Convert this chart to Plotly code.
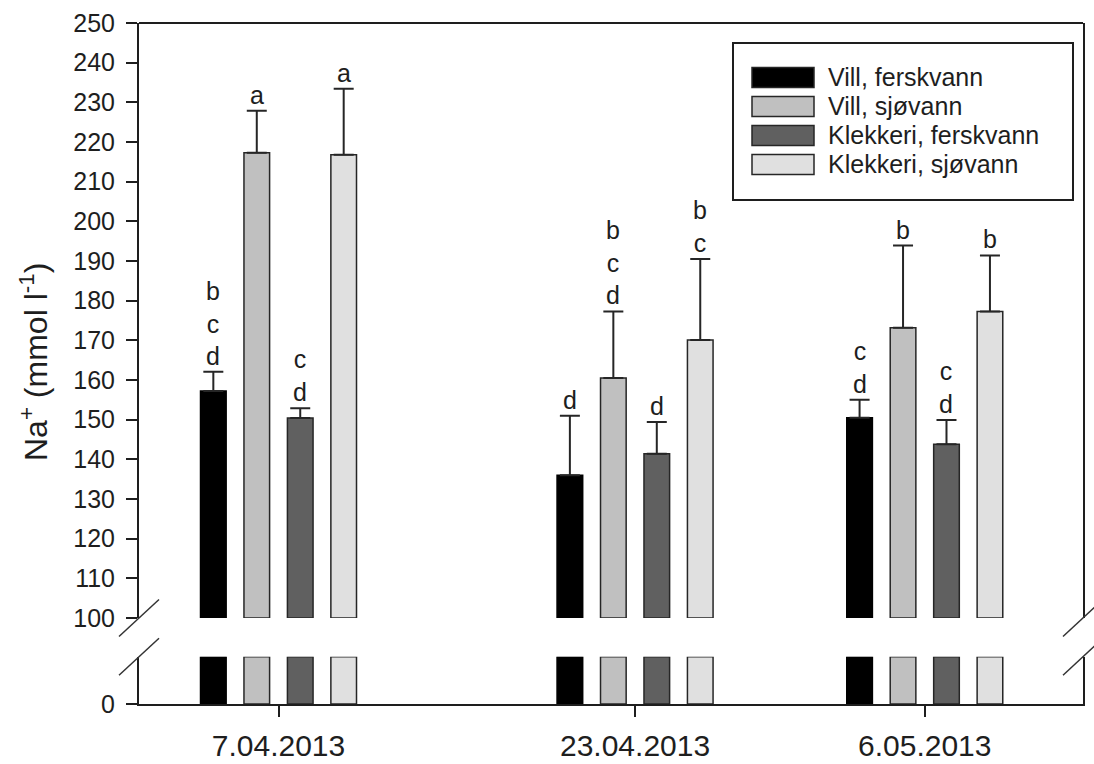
import numpy as np
import pandas as pd
import plotly.graph_objects as go

# Sampling dates and tick labels
DATES = ["2013-04-07", "2013-04-23", "2013-05-06"]
TICK_LABELS = ["7.04.2013", "23.04.2013", "6.05.2013"]

# Series: mean Na+ (mmol l-1) and upper SE
SERIES = ["Vill, ferskvann", "Vill, sjøvann", "Klekkeri, ferskvann", "Klekkeri, sjøvann"]
VILL_FERSK = [157.2, 136.0, 150.5]
VILL_FERSK_ERR = [4.9, 15.0, 4.5]
VILL_SJO = [217.3, 160.5, 173.2]
VILL_SJO_ERR = [10.6, 16.8, 20.7]
KLEK_FERSK = [150.4, 141.4, 143.8]
KLEK_FERSK_ERR = [2.5, 8.0, 6.1]
KLEK_SJO = [216.8, 170.1, 177.3]
KLEK_SJO_ERR = [16.6, 20.4, 14.1]

# Significance letters above each bar
VILL_FERSK_LET = ["bcd", "d", "cd"]
VILL_SJO_LET = ["a", "bcd", "b"]
KLEK_FERSK_LET = ["cd", "d", "cd"]
KLEK_SJO_LET = ["a", "bc", "b"]

COLORS = ["#000000", "#c0c0c0", "#606060", "#e0e0e0"]

values = [VILL_FERSK, VILL_SJO, KLEK_FERSK, KLEK_SJO]
errors = [VILL_FERSK_ERR, VILL_SJO_ERR, KLEK_FERSK_ERR, KLEK_SJO_ERR]
letters = [VILL_FERSK_LET, VILL_SJO_LET, KLEK_FERSK_LET, KLEK_SJO_LET]

# Figure geometry (pixels)
W, H = 1094, 764
ML, MR, MT, MB = 139, 11, 23, 60
PW, PH = W - ML - MR, H - MT - MB
UPPER_BOTTOM_PX = 618      # pixel row of the 100 mark
LOWER_TOP_PX = 656.7       # top of the lower axis segment
UPPER_MIN, UPPER_MAX = 100, 250
LOWER_MAX = 12

def px_x(p):
    return (p - ML) / PW

def px_y(p):
    return (H - MB - p) / PH

BARGAP = 0.40
BARGROUPGAP = 0.41
AXCOL = "#1e1e1e"
FONT = "Liberation Sans, Arial, sans-serif"

dates = pd.to_datetime(DATES)
fig = go.Figure()

for i, name in enumerate(SERIES):
    vals = np.array(values[i], dtype=float)
    line_col = "#000000" if i == 0 else "#262626"
    # upper (broken) segment: bars start at the axis break value
    fig.add_trace(go.Bar(
        x=dates, y=vals - UPPER_MIN, base=UPPER_MIN, name=name,
        marker=dict(color=COLORS[i], line=dict(color=line_col, width=1.5)),
        error_y=dict(type="data", array=errors[i], arrayminus=[0] * len(vals),
                     symmetric=False, color="#262626", thickness=2, width=10),
        xaxis="x", yaxis="y", showlegend=False,
    ))
    # lower segment: bars run from 0 up to the break
    fig.add_trace(go.Bar(
        x=dates, y=np.minimum(vals, LOWER_MAX), name=name,
        marker=dict(color=COLORS[i], line=dict(color=line_col, width=1.5)),
        xaxis="x", yaxis="y2", showlegend=False,
    ))

# letters above the error bars
day_ms = 86400000
min_gap_days = np.min(np.diff(dates.values).astype("timedelta64[ms]").astype(float)) / day_ms
slot_days = min_gap_days * (1 - BARGAP) / len(SERIES)
annotations = []
for i in range(len(SERIES)):
    off = (i - (len(SERIES) - 1) / 2) * slot_days
    for j, d in enumerate(dates):
        xpos = d + pd.Timedelta(days=off)
        annotations.append(dict(
            x=xpos.strftime("%Y-%m-%d %H:%M:%S"), y=values[i][j] + errors[i][j],
            xref="x", yref="y", text="<br>".join(letters[i][j]),
            showarrow=False, yanchor="bottom", xanchor="center",
            font=dict(family=FONT, size=25, color="#1e1e1e"),
        ))

# y-axis title
annotations.append(dict(
    x=px_x(34), y=px_y(362), xref="paper", yref="paper",
    text="Na<sup>+</sup> (mmol l<sup>-1</sup>)", textangle=-90,
    showarrow=False, xanchor="center", yanchor="middle",
    font=dict(family=FONT, size=32, color="#1e1e1e"),
))

# legend (drawn by hand with wide swatches)
shapes = []
LEG_BOX = (733, 43, 1073, 200)
shapes.append(dict(type="rect", xref="paper", yref="paper",
                   x0=px_x(LEG_BOX[0]), x1=px_x(LEG_BOX[2]),
                   y0=px_y(LEG_BOX[3]), y1=px_y(LEG_BOX[1]),
                   line=dict(color=AXCOL, width=2), fillcolor="white"))
row0, row_step = 77.5, 29
for i, name in enumerate(SERIES):
    cy = row0 + i * row_step
    shapes.append(dict(type="rect", xref="paper", yref="paper",
                       x0=px_x(752), x1=px_x(814), y0=px_y(cy + 10), y1=px_y(cy - 10),
                       line=dict(color="#262626", width=1.5), fillcolor=COLORS[i]))
    annotations.append(dict(
        x=px_x(826), y=px_y(cy), xref="paper", yref="paper", text=name,
        showarrow=False, xanchor="left", yanchor="middle",
        font=dict(family=FONT, size=25, color="#1e1e1e"),
    ))

# top frame line
shapes.append(dict(type="line", xref="paper", yref="paper", x0=0, x1=1, y0=1, y1=1,
                   line=dict(color=AXCOL, width=2)))

# axis break marks on both sides
for xc in (ML, ML + PW):
    for yc in (UPPER_BOTTOM_PX, LOWER_TOP_PX):
        shapes.append(dict(type="line", xref="paper", yref="paper",
                           x0=px_x(xc - 20), x1=px_x(xc + 20),
                           y0=px_y(yc + 18.5), y1=px_y(yc - 18.5),
                           line=dict(color="#333333", width=1.5)))

upper_dom = [px_y(UPPER_BOTTOM_PX), 1]
lower_dom = [0, px_y(LOWER_TOP_PX)]

fig.update_layout(
    width=W, height=H,
    margin=dict(l=ML, r=MR, t=MT, b=MB, pad=0, autoexpand=False),
    paper_bgcolor="white", plot_bgcolor="white",
    barmode="group", bargap=BARGAP, bargroupgap=BARGROUPGAP,
    font=dict(family=FONT, color="#1e1e1e"),
    xaxis=dict(
        type="date", anchor="y2", automargin=False,
        range=["2013-03-31 17:45", "2013-05-13 02:25"],
        tickvals=list(dates), ticktext=TICK_LABELS,
        ticks="outside", ticklen=11, tickwidth=2, tickcolor=AXCOL,
        showline=True, linecolor=AXCOL, linewidth=2,
        showgrid=False, zeroline=False, ticklabelstandoff=3,
        tickfont=dict(family=FONT, size=30, color="#1e1e1e"),
    ),
    yaxis=dict(
        domain=upper_dom, anchor="x", range=[UPPER_MIN, UPPER_MAX], automargin=False,
        tick0=UPPER_MIN, dtick=10,
        ticks="outside", ticklen=11, tickwidth=2, tickcolor=AXCOL,
        showline=True, linecolor=AXCOL, linewidth=2, mirror=True,
        showgrid=False, zeroline=False, ticklabelstandoff=6,
        tickfont=dict(family=FONT, size=25, color="#1e1e1e"),
    ),
    yaxis2=dict(
        domain=lower_dom, anchor="x", range=[0, LOWER_MAX], automargin=False,
        tickvals=[0],
        ticks="outside", ticklen=11, tickwidth=2, tickcolor=AXCOL,
        showline=True, linecolor=AXCOL, linewidth=2, mirror=True,
        showgrid=False, zeroline=False, ticklabelstandoff=6,
        tickfont=dict(family=FONT, size=25, color="#1e1e1e"),
    ),
    annotations=annotations,
    shapes=shapes,
    showlegend=False,
)

fig.write_html("out.html")
